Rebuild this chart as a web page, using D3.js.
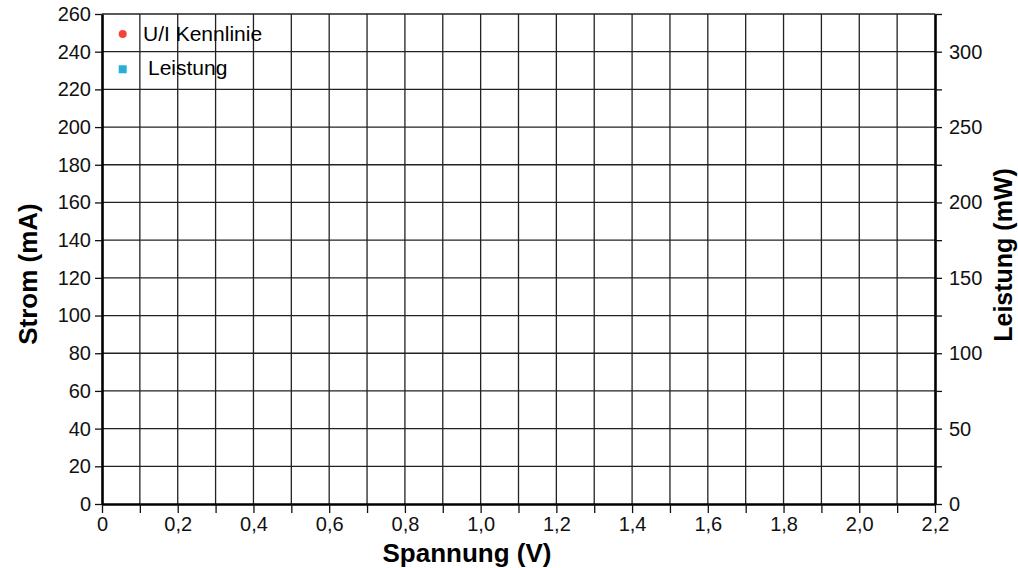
<!DOCTYPE html>
<html>
<head>
<meta charset="utf-8">
<script src="https://cdn.jsdelivr.net/npm/d3@7"></script>
<style>
  body { margin: 0; background: #fff; }
  svg { font-family: "Liberation Sans", Arial, sans-serif; }
  .grid line { stroke: #222; stroke-width: 1.3; }
  .axis text { font-size: 20px; fill: #111; }
  .axis line { stroke: #111; stroke-width: 1.3; }
  .axis path { stroke: #000; stroke-width: 2.6; }
</style>
</head>
<body>
<div id="chart"></div>
<script>
// x-Achse: Spannung (V)
var xTicks = [0, 0.1, 0.2, 0.3, 0.4, 0.5, 0.6, 0.7, 0.8, 0.9, 1.0, 1.1, 1.2, 1.3, 1.4, 1.5, 1.6, 1.7, 1.8, 1.9, 2.0, 2.1, 2.2]
var xLabels = [0, 0.2, 0.4, 0.6, 0.8, 1.0, 1.2, 1.4, 1.6, 1.8, 2.0, 2.2]
// linke Achse: Strom (mA)
var yTicks = [0, 20, 40, 60, 80, 100, 120, 140, 160, 180, 200, 220, 240, 260]
// rechte Achse: Leistung (mW)
var y2Ticks = [0, 25, 50, 75, 100, 125, 150, 175, 200, 225, 250, 275, 300, 325]
var y2Labels = [0, 50, 100, 150, 200, 250, 300]
// Legende
var series = ["U/I Kennlinie", "Leistung"]
var seriesColors = ["#f4433a", "#25b0d6"]
// Messwerte (keine im Bild)
var spannung = []
var strom = []
var leistung = []

var W = 1018, H = 568
var margin = { top: 14, right: 83, bottom: 64, left: 102 }
var width = W - margin.left - margin.right,
    height = H - margin.top - margin.bottom

var svg = d3.select("#chart").append("svg")
  .attr("width", W).attr("height", H)

var g = svg.append("g")
  .attr("transform", "translate(" + margin.left + "," + margin.top + ")")

var x = d3.scaleLinear().domain([0, 2.2]).range([0, width])
var y = d3.scaleLinear().domain([0, 260]).range([height, 0])
var y2 = d3.scaleLinear().domain([0, 325]).range([height, 0])

var fmt = function(d) { return d === 0 ? "0" : d3.format(".1f")(d).replace(".", ",") }

// grid
g.append("g").attr("class", "grid")
  .selectAll("line").data(xTicks.slice(1, -1)).enter().append("line")
  .attr("x1", d => x(d)).attr("x2", d => x(d))
  .attr("y1", 0).attr("y2", height)
g.append("g").attr("class", "grid")
  .selectAll("line").data(yTicks.slice(1)).enter().append("line")
  .attr("x1", 0).attr("x2", width)
  .attr("y1", d => y(d)).attr("y2", d => y(d))

// axes
g.append("g").attr("class", "axis")
  .attr("transform", "translate(0," + height + ")")
  .call(d3.axisBottom(x).tickValues(xTicks).tickSize(9).tickSizeOuter(0)
    .tickFormat(d => xLabels.some(v => Math.abs(v - d) < 1e-9) ? fmt(d) : ""))
  .call(a => a.selectAll("text").attr("y", 27).attr("dy", 0))

g.append("g").attr("class", "axis")
  .call(d3.axisLeft(y).tickValues(yTicks).tickSize(7).tickSizeOuter(0).tickPadding(4))

g.append("g").attr("class", "axis")
  .attr("transform", "translate(" + width + ",0)")
  .call(d3.axisRight(y2).tickValues(y2Ticks).tickSize(7).tickSizeOuter(0).tickPadding(7)
    .tickFormat(d => y2Labels.indexOf(d) >= 0 ? d : ""))

// data (leer)
g.append("g").selectAll("circle").data(spannung).enter().append("circle")
  .attr("cx", d => x(d)).attr("cy", (d, i) => y(strom[i])).attr("r", 4)
  .attr("fill", seriesColors[0])
g.append("g").selectAll("rect").data(spannung).enter().append("rect")
  .attr("x", d => x(d) - 4).attr("y", (d, i) => y2(leistung[i]) - 4)
  .attr("width", 8).attr("height", 8).attr("fill", seriesColors[1])

// titles
svg.append("text")
  .attr("x", 467).attr("y", 562)
  .attr("text-anchor", "middle").attr("font-weight", "bold").attr("font-size", 26)
  .text("Spannung (V)")
svg.append("text")
  .attr("transform", "translate(37,274) rotate(-90)")
  .attr("text-anchor", "middle").attr("font-weight", "bold").attr("font-size", 26)
  .text("Strom (mA)")
svg.append("text")
  .attr("transform", "translate(1012,255) rotate(-90)")
  .attr("text-anchor", "middle").attr("font-weight", "bold").attr("font-size", 25)
  .text("Leistung (mW)")

// legend
var leg = g.append("g")
leg.append("circle").attr("cx", 20.7).attr("cy", 20).attr("r", 4).attr("fill", seriesColors[0])
leg.append("text").attr("x", 41).attr("y", 27).attr("font-size", 21).text(series[0])
leg.append("rect").attr("x", 16.7).attr("y", 51.3).attr("width", 8).attr("height", 8).attr("fill", seriesColors[1])
leg.append("text").attr("x", 46).attr("y", 61).attr("font-size", 21).text(series[1])
</script>
</body>
</html>
